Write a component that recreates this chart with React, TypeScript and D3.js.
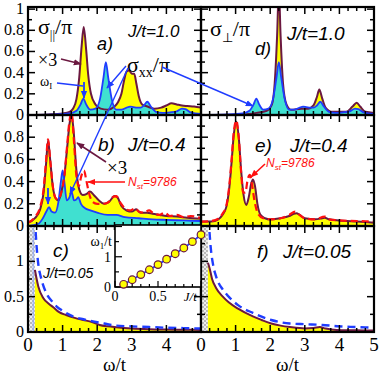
import React from 'react';
import * as d3 from 'd3';

type Pt = [number, number];

// J/t = 1.0 (panels a, d)
const sigParJ10: Pt[] = [[0,0],[0.6,0.005],[1.0,0.015],[1.2,0.03],[1.3,0.06],[1.4,0.15],[1.48,0.35],[1.55,0.65],[1.61,0.83],[1.68,0.62],[1.74,0.38],[1.82,0.2],[1.95,0.1],[2.1,0.06],[2.3,0.05],[2.5,0.08],[2.6,0.12],[2.7,0.2],[2.78,0.33],[2.85,0.41],[2.92,0.42],[3.0,0.39],[3.07,0.39],[3.13,0.3],[3.2,0.18],[3.3,0.1],[3.45,0.08],[3.65,0.06],[3.85,0.07],[4.0,0.09],[4.15,0.11],[4.3,0.1],[4.45,0.09],[4.6,0.085],[4.8,0.08],[5,0.07]];
const sigXXJ10: Pt[] = [[0,0],[0.8,0.005],[1.2,0.015],[1.4,0.04],[1.52,0.1],[1.6,0.155],[1.68,0.1],[1.8,0.05],[1.95,0.06],[2.08,0.15],[2.18,0.35],[2.25,0.5],[2.32,0.35],[2.42,0.15],[2.55,0.05],[2.7,0.05],[2.85,0.07],[2.95,0.08],[3.05,0.075],[3.15,0.07],[3.25,0.07],[3.35,0.09],[3.45,0.125],[3.55,0.08],[3.7,0.03],[3.9,0.02],[4.1,0.025],[4.3,0.035],[4.45,0.06],[4.55,0.055],[4.7,0.025],[5,0.01]];
const sigPerpJ10: Pt[] = [[0,0],[1.2,0.005],[1.6,0.02],[1.9,0.04],[2.05,0.1],[2.13,0.3],[2.2,0.75],[2.25,1.2],[2.3,0.75],[2.37,0.3],[2.47,0.1],[2.6,0.05],[2.9,0.06],[3.1,0.06],[3.25,0.09],[3.35,0.17],[3.42,0.24],[3.5,0.16],[3.6,0.07],[3.8,0.03],[4.2,0.03],[4.38,0.08],[4.5,0.115],[4.6,0.08],[4.75,0.03],[5,0.02]];

// J/t = 0.4 (panels b, e)
const sigParJ04: Pt[] = [[0,0.03],[0.2,0.07],[0.35,0.15],[0.45,0.3],[0.52,0.55],[0.58,0.77],[0.64,0.6],[0.72,0.35],[0.8,0.25],[0.88,0.23],[0.96,0.3],[1.05,0.45],[1.13,0.7],[1.2,0.92],[1.26,1.0],[1.32,0.85],[1.4,0.5],[1.48,0.33],[1.58,0.28],[1.7,0.29],[1.79,0.31],[1.9,0.28],[2.05,0.23],[2.2,0.2],[2.35,0.22],[2.5,0.27],[2.58,0.26],[2.7,0.18],[2.85,0.14],[3.0,0.13],[3.13,0.15],[3.25,0.12],[3.45,0.12],[3.6,0.11],[3.8,0.1],[4.0,0.09],[4.3,0.085],[4.6,0.075],[5,0.065]];
const sigParJ04Nst: Pt[] = [[0,0.03],[0.2,0.08],[0.35,0.17],[0.45,0.33],[0.52,0.58],[0.58,0.78],[0.64,0.6],[0.72,0.35],[0.8,0.25],[0.88,0.24],[0.96,0.3],[1.05,0.45],[1.13,0.72],[1.2,0.95],[1.26,1.02],[1.32,0.8],[1.4,0.45],[1.47,0.36],[1.54,0.45],[1.62,0.5],[1.68,0.42],[1.76,0.3],[1.86,0.22],[2.0,0.2],[2.15,0.2],[2.3,0.21],[2.45,0.26],[2.55,0.27],[2.65,0.22],[2.8,0.16],[2.95,0.14],[3.1,0.16],[3.2,0.13],[3.35,0.12],[3.5,0.14],[3.6,0.12],[3.8,0.1],[3.95,0.12],[4.1,0.09],[4.3,0.1],[4.5,0.08],[4.7,0.09],[5,0.07]];
const sigXXJ04: Pt[] = [[0,0],[0.3,0.02],[0.43,0.07],[0.53,0.13],[0.61,0.17],[0.68,0.13],[0.78,0.12],[0.88,0.22],[0.95,0.4],[1.0,0.5],[1.05,0.4],[1.12,0.23],[1.2,0.26],[1.26,0.31],[1.33,0.23],[1.4,0.24],[1.45,0.26],[1.53,0.2],[1.65,0.16],[1.8,0.14],[2.0,0.12],[2.3,0.1],[2.55,0.1],[2.8,0.08],[3.2,0.07],[3.6,0.06],[4.0,0.055],[4.5,0.05],[5,0.045]];
const sigPerpJ04: Pt[] = [[0,0.04],[0.3,0.04],[0.5,0.06],[0.62,0.1],[0.73,0.17],[0.82,0.35],[0.88,0.56],[0.95,0.83],[1.02,0.94],[1.09,0.8],[1.16,0.5],[1.23,0.28],[1.31,0.19],[1.38,0.26],[1.45,0.38],[1.5,0.42],[1.56,0.36],[1.63,0.2],[1.72,0.1],[1.85,0.07],[2.0,0.06],[2.3,0.07],[2.55,0.09],[2.68,0.11],[2.76,0.115],[2.85,0.1],[3.0,0.07],[3.3,0.06],[3.5,0.07],[3.58,0.075],[3.7,0.06],[4.0,0.05],[4.5,0.04],[5,0.03]];
const sigPerpJ04Nst: Pt[] = [[0,0.04],[0.3,0.045],[0.5,0.065],[0.62,0.11],[0.73,0.18],[0.82,0.37],[0.88,0.58],[0.95,0.85],[1.02,0.95],[1.09,0.8],[1.16,0.48],[1.22,0.3],[1.28,0.3],[1.35,0.42],[1.41,0.46],[1.47,0.38],[1.55,0.22],[1.65,0.11],[1.8,0.07],[2.0,0.06],[2.3,0.07],[2.55,0.1],[2.72,0.13],[2.85,0.1],[3.0,0.07],[3.3,0.06],[3.5,0.08],[3.58,0.085],[3.7,0.06],[4.0,0.05],[4.5,0.045],[5,0.04]];

// J/t = 0.05 (panels c, f)
const sigParJ005: Pt[] = [[0.2,0.88],[0.25,0.75],[0.3,0.64],[0.44,0.48],[0.6,0.4],[0.73,0.35],[0.9,0.28],[1.1,0.24],[1.35,0.2],[1.6,0.17],[1.85,0.14],[2.07,0.1],[2.3,0.08],[2.55,0.067],[3.0,0.05],[3.5,0.04],[4.0,0.035],[4.5,0.032],[5,0.03]];
const sigParJ005Ref: Pt[] = [[0.2,1.6],[0.25,1.2],[0.3,0.95],[0.37,0.78],[0.53,0.55],[0.7,0.43],[0.83,0.36],[1.0,0.3],[1.3,0.22],[1.6,0.18],[1.88,0.15],[2.2,0.12],[2.55,0.09],[3.0,0.08],[3.5,0.07],[4.0,0.06],[4.5,0.055],[5,0.05]];
const sigPerpJ005: Pt[] = [[0.2,0.98],[0.25,0.9],[0.32,0.75],[0.44,0.62],[0.63,0.5],[0.8,0.42],[1.07,0.33],[1.5,0.22],[1.75,0.17],[2.03,0.12],[2.3,0.09],[2.57,0.07],[3.0,0.05],[3.25,0.055],[3.43,0.07],[3.6,0.05],[3.92,0.03],[4.5,0.025],[5,0.02]];
const sigPerpJ005Ref: Pt[] = [[0.22,1.6],[0.28,1.2],[0.35,0.95],[0.44,0.78],[0.63,0.6],[0.8,0.5],[1.07,0.38],[1.5,0.27],[2.03,0.17],[2.57,0.12],[3.0,0.11],[3.5,0.1],[4.0,0.08],[4.5,0.07],[5,0.06]];

// inset: omega_1 / t vs J / t
const insetJ = [0.1, 0.2, 0.3, 0.4, 0.5, 0.6, 0.7, 0.8, 0.9, 1.0];
const insetW1 = [0.09, 0.24, 0.41, 0.57, 0.74, 0.92, 1.1, 1.29, 1.5, 1.73];

const xTickLabels = [0, 1, 2, 3, 4, 5];
const yLabelsAB = [0, 0.2, 0.4, 0.6, 0.8, 1];
const yLabelsC = [0, 0.5, 1];

const YELLOW = '#ffff00';
const CYAN = '#40e0d0';
const MAROON = '#6b1840';
const BLUE = '#1f3cff';
const RED = '#ff1010';

const COLS: [number, number][] = [[28, 201], [201, 374]];
const ROWS = [
  { range: [115, 7], max: 1.02, step: 0.1, major: 2 },
  { range: [226, 115], max: 1.0, step: 0.1, major: 2 },
  { range: [332, 226], max: 1.5, step: 0.25, major: 2 },
];

const panels = [
  { key: 'a', col: 0, row: 0, yellow: sigParJ10, cyan: sigXXJ10 },
  { key: 'b', col: 0, row: 1, yellow: sigParJ04, cyan: sigXXJ04, red: sigParJ04Nst },
  { key: 'c', col: 0, row: 2, yellow: sigParJ005, dashed: sigParJ005Ref, gap: true },
  { key: 'd', col: 1, row: 0, yellow: sigPerpJ10, cyan: sigXXJ10 },
  { key: 'e', col: 1, row: 1, yellow: sigPerpJ04, red: sigPerpJ04Nst },
  { key: 'f', col: 1, row: 2, yellow: sigPerpJ005, dashed: sigPerpJ005Ref, gap: true },
];

const serif = '"Liberation Serif", "Times New Roman", serif';
const sans = '"Liberation Sans", Arial, sans-serif';

function Panel({ p }: { p: any }) {
  const [x0, x1] = COLS[p.col];
  const row = ROWS[p.row];
  const x = d3.scaleLinear().domain([0, 5]).range([x0, x1]);
  const y = d3.scaleLinear().domain([0, row.max]).range(row.range);
  const top = row.range[1], bot = row.range[0];
  const area = d3.area<Pt>().x(d => x(d[0])).y0(y(0)).y1(d => y(d[1])).curve(d3.curveMonotoneX);
  const line = d3.line<Pt>().x(d => x(d[0])).y(d => y(d[1])).curve(d3.curveMonotoneX);
  const clip = 'clip-' + p.key;

  const xt = d3.range(0, 5.001, 0.25);
  const yt = d3.range(0, row.max + 1e-6, row.step);

  return (
    <g>
      <clipPath id={clip}><rect x={x0} y={top} width={x1 - x0} height={bot - top} /></clipPath>
      <g clipPath={`url(#${clip})`}>
        {p.gap && <rect x={x(0)} y={top} width={x(0.2) - x(0)} height={bot - top} fill="url(#chk)" />}
        <path d={area(p.yellow) || ''} fill={YELLOW} />
        {p.cyan && <path d={area(p.cyan) || ''} fill={CYAN} />}
        <path d={line(p.yellow) || ''} fill="none" stroke={MAROON} strokeWidth={2} />
        {p.cyan && <path d={line(p.cyan) || ''} fill="none" stroke={BLUE} strokeWidth={1.8} />}
        {p.red && <path d={line(p.red) || ''} fill="none" stroke={RED} strokeWidth={2.2} strokeDasharray="7,4" />}
        {p.gap && p.col === 0 && <line x1={x(0.15)} x2={x(0.15)} y1={top} y2={bot} stroke="#8fa8ff" strokeWidth={1} />}
        {p.dashed && <path d={line(p.dashed) || ''} fill="none" stroke={BLUE} strokeWidth={2.4} strokeDasharray="8,5" />}
      </g>
      {xt.map((t, i) => {
        const len = i % 4 === 0 ? 7 : 4;
        return (
          <g key={'x' + i}>
            <line x1={x(t)} x2={x(t)} y1={bot} y2={bot - len} stroke="#000" strokeWidth={1.5} />
            <line x1={x(t)} x2={x(t)} y1={top} y2={top + len} stroke="#000" strokeWidth={1.5} />
          </g>
        );
      })}
      {yt.map((t, i) => {
        const len = i % row.major === 0 ? 7 : 4;
        return (
          <g key={'y' + i}>
            <line x1={x0} x2={x0 + len} y1={y(t)} y2={y(t)} stroke="#000" strokeWidth={1.5} />
            <line x1={x1} x2={x1 - len} y1={y(t)} y2={y(t)} stroke="#000" strokeWidth={1.5} />
          </g>
        );
      })}
      <rect x={x0} y={top} width={x1 - x0} height={bot - top} fill="none" stroke="#000" strokeWidth={2.2} />
      {p.col === 0 && (p.row < 2 ? yLabelsAB : yLabelsC)
        .filter(v => !(p.row === 1 && v === 1))
        .map(v => (
          <text key={'yl' + v} x={24} y={y(v) + 5} textAnchor="end" fontFamily={serif} fontSize={16}>{v}</text>
        ))}
      {p.row === 2 && xTickLabels
        .filter(v => !(p.col === 0 && v === 5))
        .map(v => (
          <text key={'xl' + v} x={x(v)} y={351} textAnchor="middle" fontFamily={serif} fontSize={19}>{v}</text>
        ))}
      {p.row === 2 && (
        <text x={x(2.5)} y={371} textAnchor="middle" fontFamily={serif} fontSize={19}>ω/t</text>
      )}
    </g>
  );
}

function Inset() {
  const x = d3.scaleLinear().domain([0, 1]).range([115, 201]);
  const y = d3.scaleLinear().domain([0, 2.05]).range([287, 225]);
  const pts: Pt[] = insetJ.map((j, i) => [j, insetW1[i]]);
  const line = d3.line<Pt>().x(d => x(d[0])).y(d => y(d[1]));
  const xt = d3.range(0, 1.001, 0.1);
  const yt = d3.range(0, 2.01, 0.5);
  return (
    <g>
      <rect x={115} y={225} width={86} height={62} fill="#fff" stroke="#000" strokeWidth={1.6} />
      {xt.map((t, i) => (
        <line key={'ix' + i} x1={x(t)} x2={x(t)} y1={287} y2={287 - (i % 5 === 0 ? 6 : 3)} stroke="#000" strokeWidth={1.2} />
      ))}
      {yt.map((t, i) => (
        <line key={'iy' + i} x1={115} x2={115 + (i % 2 === 0 ? 7 : 4)} y1={y(t)} y2={y(t)} stroke="#000" strokeWidth={1.2} />
      ))}
      <path d={line(pts) || ''} fill="none" stroke={BLUE} strokeWidth={1.8} />
      {pts.map((d, i) => (
        <circle key={'c' + i} cx={x(d[0])} cy={y(d[1])} r={3.8} fill={YELLOW} stroke={MAROON} strokeWidth={1.2} />
      ))}
      <text x={111} y={y(0) + 5} textAnchor="end" fontFamily={serif} fontSize={14}>0</text>
      <text x={111} y={y(1) + 5} textAnchor="end" fontFamily={serif} fontSize={14}>1</text>
      <text x={x(0)} y={301} textAnchor="middle" fontFamily={serif} fontSize={14}>0</text>
      <text x={x(0.5)} y={301} textAnchor="middle" fontFamily={serif} fontSize={14}>0.5</text>
      <text x={x(0.8)} y={301} fontFamily={serif} fontStyle="italic" fontSize={13}>J/t</text>
      <text x={112} y={246} textAnchor="end" fontFamily={serif} fontSize={14}>
        ω<tspan fontSize={9} dy={3}>1</tspan><tspan dy={-3}>/t</tspan>
      </text>
    </g>
  );
}

export default function App() {
  return (
    <svg width={382} height={374} style={{ position: 'absolute', left: 0, top: 0, background: '#fff' }}>
      <defs>
        <pattern id="chk" width={4} height={4} patternUnits="userSpaceOnUse">
          <rect width={4} height={4} fill="#eeeeee" />
          <rect width={2} height={2} fill="#b8b8b8" />
          <rect x={2} y={2} width={2} height={2} fill="#b8b8b8" />
        </pattern>
        {[['blue', BLUE], ['maroon', MAROON], ['red', RED]].map(([id, c]) => (
          <marker key={id} id={'arr-' + id} viewBox="0 0 10 10" refX={9} refY={5} markerWidth={8} markerHeight={8}
            markerUnits="userSpaceOnUse" orient="auto">
            <path d="M0,1 L10,5 L0,9 z" fill={c} />
          </marker>
        ))}
      </defs>
      {panels.map(p => <Panel key={p.key} p={p} />)}
      <Inset />

      {/* panel a labels */}
      <text x={38} y={34} fontFamily={serif} fontSize={22}>σ<tspan fontSize={13} dy={5}>||</tspan><tspan dy={-5}>/π</tspan></text>
      <text x={128} y={37} fontFamily={sans} fontStyle="italic" fontSize={17}>J/t=1.0</text>
      <text x={97} y={50} fontFamily={sans} fontStyle="italic" fontSize={18}>a)</text>
      <text x={38} y={66} fontFamily={serif} fontSize={18}>×3</text>
      <line x1={61} y1={59} x2={81} y2={64} stroke={MAROON} strokeWidth={1.6} markerEnd="url(#arr-maroon)" />
      <text x={40} y={86} fontFamily={serif} fontSize={14}>ω<tspan fontSize={9} dy={3}>I</tspan></text>
      <line x1={57} y1={83} x2={83} y2={86} stroke={BLUE} strokeWidth={1.4} />
      <line x1={84} y1={82} x2={84} y2={98} stroke={BLUE} strokeWidth={1.8} markerEnd="url(#arr-blue)" />
      <text x={127} y={72} fontFamily={serif} fontSize={22}>σ<tspan fontSize={14} dy={5}>xx</tspan><tspan dy={-5}>/π</tspan></text>
      <line x1={126} y1={66} x2={107} y2={88} stroke={BLUE} strokeWidth={1.4} markerEnd="url(#arr-blue)" />
      <line x1={128} y1={68} x2={70} y2={194} stroke={BLUE} strokeWidth={1.4} markerEnd="url(#arr-blue)" />
      <line x1={162} y1={67} x2={253} y2={106} stroke={BLUE} strokeWidth={1.4} markerEnd="url(#arr-blue)" />

      {/* panel d labels */}
      <text x={210} y={36} fontFamily={serif} fontSize={22}>σ<tspan fontSize={13} dy={6}>⊥</tspan><tspan dy={-6}>/π</tspan></text>
      <text x={255} y={55} fontFamily={sans} fontStyle="italic" fontSize={18}>d)</text>
      <text x={287} y={40} fontFamily={sans} fontStyle="italic" fontSize={19}>J/t=1.0</text>

      {/* panel b labels */}
      <text x={98} y={151} fontFamily={sans} fontStyle="italic" fontSize={19}>b)</text>
      <text x={128} y={151} fontFamily={sans} fontStyle="italic" fontSize={19}>J/t=0.4</text>
      <text x={107} y={174} fontFamily={serif} fontSize={19}>×3</text>
      <line x1={106} y1={162} x2={77} y2={143} stroke={MAROON} strokeWidth={1.6} markerEnd="url(#arr-maroon)" />
      <text x={128} y={186} fill={RED} fontFamily={sans} fontStyle="italic" fontSize={12}>N<tspan fontSize={8} dy={3}>st</tspan><tspan dy={-3}>=9786</tspan></text>
      <line x1={125} y1={182} x2={88} y2={182} stroke={RED} strokeWidth={1.6} markerEnd="url(#arr-red)" />
      <line x1={48} y1={188} x2={48} y2={204} stroke={BLUE} strokeWidth={1.8} markerEnd="url(#arr-blue)" />

      {/* panel e labels */}
      <text x={255} y={152} fontFamily={sans} fontStyle="italic" fontSize={19}>e)</text>
      <text x={290} y={152} fontFamily={sans} fontStyle="italic" fontSize={19}>J/t=0.4</text>
      <text x={266} y={167} fill={RED} fontFamily={sans} fontStyle="italic" fontSize={12}>N<tspan fontSize={8} dy={3}>st</tspan><tspan dy={-3}>=9786</tspan></text>
      <line x1={265} y1={164} x2={251} y2={177} stroke={RED} strokeWidth={1.6} markerEnd="url(#arr-red)" />

      {/* panel c, f labels */}
      <text x={53} y={257} fontFamily={sans} fontStyle="italic" fontSize={19}>c)</text>
      <text x={43} y={278} fontFamily={sans} fontStyle="italic" fontSize={14}>J/t=0.05</text>
      <text x={257} y={258} fontFamily={sans} fontStyle="italic" fontSize={19}>f)</text>
      <text x={283} y={258} fontFamily={sans} fontStyle="italic" fontSize={19}>J/t=0.05</text>
    </svg>
  );
}
